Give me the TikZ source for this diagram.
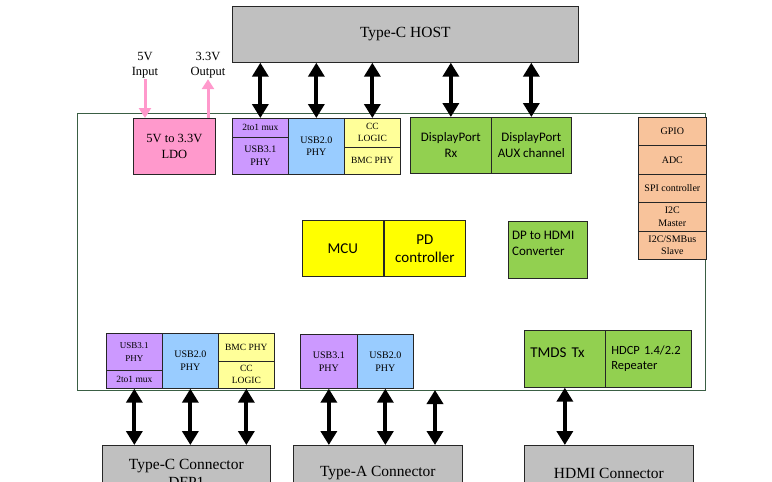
\documentclass[tikz,border=0pt]{standalone}
\usepackage{fontspec}
\usepackage{xcolor}
\usepackage{tikz}
\usetikzlibrary{arrows.meta}

\setmainfont{Liberation Serif}
\newfontfamily\calfont{Carlito}
\newcommand\fs[2]{\fontsize{#1}{#2}\selectfont}

\definecolor{hostgray}{HTML}{C0C0C0}
\definecolor{ldopink}{HTML}{FF99CC}
\definecolor{usbpurple}{HTML}{CC99FF}
\definecolor{usbblue}{HTML}{99CCFF}
\definecolor{ccyellow}{HTML}{FFFF99}
\definecolor{mcuyellow}{HTML}{FFFF00}
\definecolor{dpgreen}{HTML}{92D050}
\definecolor{periph}{HTML}{F8C39B}
\definecolor{boardgreen}{HTML}{3A5F44}

\begin{document}
\begin{tikzpicture}[x=1pt,y=-1pt,
    box/.style={draw=black!85, line width=0.7pt, inner sep=1pt, align=center, anchor=north west},
    bus/.style={line width=4pt, {Triangle[width=16pt,length=14pt]}-{Triangle[width=16pt,length=14pt]}},
    pwr/.style={draw=ldopink, line width=3pt, -{Triangle[width=12pt,length=10pt]}}]
        \useasboundingbox (0,0) rectangle (772,482);
        \clip (0,0) rectangle (772,482);

        % Host and board outline
        \node[box, fill=hostgray, minimum width=346pt, minimum height=56pt, font=\fs{15.5}{18}] (host) at (232,6) {Type-C HOST};
        \draw[draw=boardgreen, line width=0.8pt] (77,113) rectangle (705,390);

        % Power
        \node[box, fill=ldopink, minimum width=82pt, minimum height=56pt, font=\fs{12.5}{16}] (ldo) at (133,118) {5V to 3.3V\\LDO};
        \node[align=center, inner sep=1pt, font=\fs{12.5}{15}] (vin) at (145,65) {5V\\Input};
        \node[align=center, inner sep=1pt, font=\fs{12.5}{15}] (vout) at (208,65) {3.3V\\Output};

        % Upstream USB / CC
        \node[box, fill=usbpurple, minimum width=56pt, minimum height=19pt, font=\fs{9.5}{11}] (muxA) at (232,118) {2to1 mux};
        \node[box, fill=usbpurple, minimum width=56pt, minimum height=37pt, font=\fs{10}{13.5}] (phy3A) at (232,137) {USB3.1\\PHY};
        \node[box, fill=usbblue, minimum width=56pt, minimum height=56pt, font=\fs{10}{12}] (phy2A) at (288,118) {USB2.0\\PHY};
        \node[box, fill=ccyellow, minimum width=56pt, minimum height=29pt, font=\fs{9.5}{12}] (ccA) at (344,118) {CC\\LOGIC};
        \node[box, fill=ccyellow, minimum width=56pt, minimum height=27pt, font=\fs{9.5}{11}] (bmcA) at (344,147) {BMC PHY};

        % DisplayPort
        \node[box, fill=dpgreen, minimum width=81pt, minimum height=56pt, font=\calfont\fs{13}{16}] (dprx) at (410,117) {DisplayPort\\Rx};
        \node[box, fill=dpgreen, minimum width=80pt, minimum height=56pt, font=\calfont\fs{13}{16}] (dpaux) at (491,117) {DisplayPort\\AUX channel};

        % Peripherals
        \node[box, fill=periph, minimum width=68pt, minimum height=28pt, font=\fs{10}{12}] (gpio) at (638,117) {GPIO};
        \node[box, fill=periph, minimum width=68pt, minimum height=29pt, font=\fs{10}{12}] (adc) at (638,145) {ADC};
        \node[box, fill=periph, minimum width=68pt, minimum height=28pt, font=\fs{10}{12}] (spi) at (638,174) {SPI controller};
        \node[box, fill=periph, minimum width=68pt, minimum height=29pt, font=\fs{10}{12.5}] (i2cm) at (638,202) {I2C\\Master};
        \node[box, fill=periph, minimum width=68pt, minimum height=28pt, font=\fs{10}{12.5}] (i2cs) at (638,231) {I2C/SMBus\\Slave};

        % Core
        \node[box, fill=mcuyellow, minimum width=81pt, minimum height=56pt, font=\calfont\fs{15}{18}] (mcu) at (302,220) {MCU};
        \node[box, fill=mcuyellow, minimum width=81pt, minimum height=56pt, font=\calfont\fs{15}{18}] (pd) at (384,220) {PD\\controller};
        \node[box, fill=dpgreen, minimum width=79pt, minimum height=57pt] (dphdmi) at (508,221) {};
        \node[anchor=north west, align=left, inner sep=0pt, font=\calfont\fs{13}{16}] (dphdmiTxt) at (512,231) {DP to HDMI\\Converter};

        % Downstream Type-C
        \node[box, fill=usbpurple, minimum width=56pt, minimum height=37pt, font=\fs{9}{13}] (phy3B) at (106,333) {USB3.1\\PHY};
        \node[box, fill=usbpurple, minimum width=56pt, minimum height=18pt, font=\fs{9.5}{11}] (muxB) at (106,370) {2to1 mux};
        \node[box, fill=usbblue, minimum width=56pt, minimum height=55pt, font=\fs{10}{13}] (phy2B) at (162,333) {USB2.0\\PHY};
        \node[box, fill=ccyellow, minimum width=56pt, minimum height=28pt, font=\fs{9.5}{11}] (bmcB) at (218,333) {BMC PHY};
        \node[box, fill=ccyellow, minimum width=56pt, minimum height=27pt, font=\fs{9.5}{12}] (ccB) at (218,361) {CC\\LOGIC};

        % Downstream Type-A
        \node[box, fill=usbpurple, minimum width=57pt, minimum height=54pt, font=\fs{10}{13}] (phy3C) at (300,334) {USB3.1\\PHY};
        \node[box, fill=usbblue, minimum width=56pt, minimum height=54pt, font=\fs{10}{13}] (phy2C) at (357,334) {USB2.0\\PHY};
        \coordinate (usbx) at (435,390);

        % HDMI out
        \node[box, fill=dpgreen, minimum width=81pt, minimum height=57pt, text width=69pt, inner xsep=6pt, align=left, text depth=12pt, font=\calfont\fs{15}{18}] (tmds) at (524,330) {TMDS Tx};
        \node[box, fill=dpgreen, minimum width=86pt, minimum height=57pt, text width=74pt, inner xsep=6pt, align=left, font=\calfont\fs{12.5}{15}] (hdcp) at (605,330) {HDCP 1.4/2.2\\Repeater};

        % Connectors
        \node[box, fill=hostgray, minimum width=168pt, minimum height=56pt, font=\fs{15.5}{18}] (tC) at (102,445) {Type-C Connector\\DFP1};
        \node[box, fill=hostgray, minimum width=169pt, minimum height=56pt, font=\fs{15.5}{18}] (tA) at (293,445) {Type-A Connector};
        \node[box, fill=hostgray, minimum width=169pt, minimum height=56pt, font=\fs{15.5}{18}] (hdmi) at (524,445) {HDMI Connector};

        % Power arrows
        \draw[pwr] (vin.south) -- (vin.south |- ldo.north);
        \draw[pwr] (vout.south |- ldo.north) -- (vout.south);

        % Host links
        \draw[bus] (muxA.north |- host.south) -- (muxA.north);
        \draw[bus] (phy2A.north |- host.south) -- (phy2A.north);
        \draw[bus] (ccA.north |- host.south) -- (ccA.north);
        \draw[bus] (dprx.north |- host.south) -- (dprx.north);
        \draw[bus] (dpaux.north |- host.south) -- (dpaux.north);

        % Connector links
        \draw[bus] (muxB.south) -- (muxB.south |- tC.north);
        \draw[bus] (phy2B.south) -- (phy2B.south |- tC.north);
        \draw[bus] (ccB.south) -- (ccB.south |- tC.north);
        \draw[bus] (phy3C.south) -- (phy3C.south |- tA.north);
        \draw[bus] (phy2C.south) -- (phy2C.south |- tA.north);
        \draw[bus] (usbx) -- (usbx |- tA.north);
        \draw[bus] (tmds.south) -- (tmds.south |- hdmi.north);
\end{tikzpicture}
\end{document}
